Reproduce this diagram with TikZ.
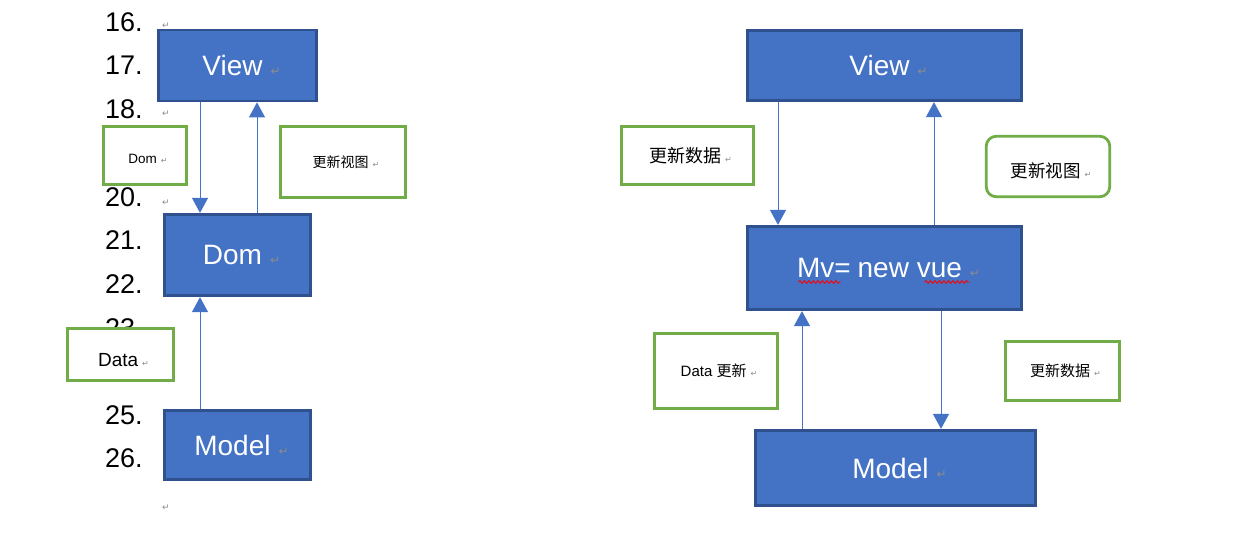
\documentclass[tikz,border=0pt]{standalone}
\usepackage{fontspec}
\setmainfont{Liberation Sans}
\newfontfamily\cjk{Noto Sans CJK SC}
\newfontfamily\symfont{DejaVu Sans}
\usetikzlibrary{arrows.meta,decorations.pathmorphing}
\definecolor{boxfill}{HTML}{4472C4}
\definecolor{boxline}{HTML}{2F528F}
\definecolor{lblgreen}{HTML}{70AD47}
\definecolor{retgray}{HTML}{8C8C8C}
\newcommand{\retmark}[1][9]{{\symfont\fontsize{#1}{#1}\selectfont\color{retgray}↵}}
\begin{document}
\begin{tikzpicture}[x=1pt,y=-1pt,
  bluebox/.style={draw=boxline, fill=boxfill, line width=2.8pt, text=white, inner sep=0pt, font=\fontsize{28}{28}\selectfont},
  lblbox/.style={draw=lblgreen, fill=white, line width=2.8pt, inner sep=0pt},
  arr/.style={draw=boxfill, line width=1pt, -{Triangle[length=15pt,width=16pt]}},
  lnum/.style={anchor=west, inner sep=0pt, font=\fontsize{27}{27}\selectfont},
  retnode/.style={inner sep=0pt},
  wavy/.style={draw=red, line width=0.9pt, decorate, decoration={snake, amplitude=1.3pt, segment length=4.5pt}}]
\useasboundingbox[fill=white] (0,0) rectangle (1238,545);

% line numbers
\node[lnum] (n16) at (105,22.5) {16.};
\node[lnum] (n17) at (105,65) {17.};
\node[lnum] (n18) at (105,109) {18.};
\node[lnum] (n20) at (105,197.5) {20.};
\node[lnum] (n21) at (105,240.5) {21.};
\node[lnum] (n22) at (105,284) {22.};
\node[lnum] (n23) at (105,328) {23.};
\node[lnum] (n25) at (105,415) {25.};
\node[lnum] (n26) at (105,458.5) {26.};
\node[retnode] (r16) at (166,26) {\retmark};
\node[retnode] (r18) at (166,114) {\retmark};
\node[retnode] (r20) at (166,203) {\retmark};
\node[retnode] (rend) at (166,508) {\retmark};

% left diagram
\node[bluebox, minimum width=158.5pt, minimum height=71pt] (view1) at (237.5,65.5) {\hspace{8pt}View\hspace{8pt}\retmark[12]};
\node[bluebox, minimum width=146.5pt, minimum height=81.5pt] (dom1) at (237.5,255) {\hspace{8pt}Dom\hspace{8pt}\retmark[12]};
\node[bluebox, minimum width=146.5pt, minimum height=69.5pt] (model1) at (237.5,445) {\hspace{8pt}Model\hspace{8pt}\retmark[12]};

\node[lblbox, minimum width=83.5pt, minimum height=58.5pt, text height=17pt, text depth=0pt, font=\fontsize{13.5}{13.5}\selectfont] (lbl1) at (145,155.5) {\hspace{6pt}Dom\hspace{4pt}\retmark[8]};
\node[lblbox, minimum width=125.5pt, minimum height=71.5pt, font=\fontsize{14}{14}\selectfont] (lbl2) at (343,162) {\hspace{6pt}{\cjk 更新视图}\hspace{4pt}\retmark[8]};
\node[lblbox, minimum width=106.5pt, minimum height=52.5pt, text height=24pt, text depth=0pt, font=\fontsize{19}{19}\selectfont] (lbl3) at (120.5,354.5) {\hspace{6pt}Data\hspace{4pt}\retmark[8]};

\draw[arr] ([xshift=-37.5pt]view1.south) -- ([xshift=-37.5pt]dom1.north);
\draw[arr] ([xshift=19.5pt]dom1.north) -- ([xshift=19.5pt]view1.south);
\draw[arr] ([xshift=-37.5pt]model1.north) -- ([xshift=-37.5pt]dom1.south);

% right diagram
\node[bluebox, minimum width=274.5pt, minimum height=70.5pt] (view2) at (884.5,65.5) {\hspace{8pt}View\hspace{8pt}\retmark[12]};
\node[bluebox, minimum width=274.5pt, minimum height=83.5pt] (mv) at (884.5,268) {\hspace{8pt}Mv=\hspace{7pt}new vue\hspace{8pt}\retmark[12]};
\node[bluebox, minimum width=280.5pt, minimum height=75.5pt] (model2) at (895.5,468) {\hspace{8pt}Model\hspace{8pt}\retmark[12]};

\node[lblbox, minimum width=132.5pt, minimum height=58.5pt, font=\fontsize{18}{18}\selectfont] (lblA) at (687.5,155.5) {\hspace{6pt}{\cjk 更新数据}\hspace{4pt}\retmark[8]};
\node[lblbox, rounded corners=10pt, minimum width=123.5pt, minimum height=60.5pt, text height=22pt, text depth=0pt, font=\fontsize{17.5}{17.5}\selectfont] (lblB) at (1048,166.5) {\hspace{6pt}{\cjk 更新视图}\hspace{4pt}\retmark[8]};
\node[lblbox, minimum width=123.5pt, minimum height=75.5pt, font=\fontsize{15}{15}\selectfont] (lblC) at (716,371) {\hspace{6pt}Data {\cjk 更新}\hspace{4pt}\retmark[8]};
\node[lblbox, minimum width=114.5pt, minimum height=59.5pt, font=\fontsize{15}{15}\selectfont] (lblD) at (1062.5,371) {\hspace{6pt}{\cjk 更新数据}\hspace{4pt}\retmark[8]};

\draw[arr] ([xshift=-106.5pt]view2.south) -- ([xshift=-106.5pt]mv.north);
\draw[arr] ([xshift=49.5pt]mv.north) -- ([xshift=49.5pt]view2.south);
\draw[arr] ([xshift=-93.5pt]model2.north) -- ([xshift=-82.5pt]mv.south);
\draw[arr] ([xshift=56.5pt]mv.south) -- ([xshift=45.5pt]model2.north);

% spell-check underlines
\draw[wavy] (mv.center) ++(-86,14) -- ++(42,0);
\draw[wavy] (mv.center) ++(40,14) -- ++(45,0);
\end{tikzpicture}
\end{document}
